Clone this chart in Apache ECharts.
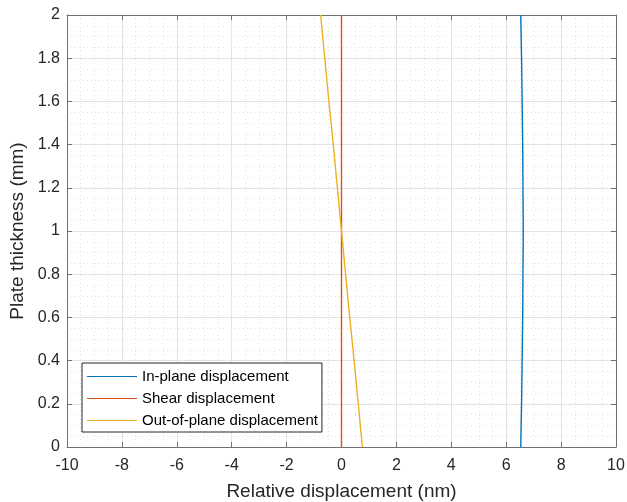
<!DOCTYPE html>
<html><head><meta charset="utf-8">
<script src="https://cdn.jsdelivr.net/npm/echarts@6/dist/echarts.min.js"></script>
<style>html,body{margin:0;padding:0;background:#fff}#c{width:627px;height:502px}</style>
</head><body><div id="c"></div>
<script>
var thickness = [0, 0.2, 0.4, 0.6, 0.8, 1.0, 1.2, 1.4, 1.6, 1.8, 2.0];
var inPlane = [6.53, 6.56, 6.58, 6.60, 6.61, 6.62, 6.61, 6.60, 6.58, 6.56, 6.53];
var shear = [0, 0, 0, 0, 0, 0, 0, 0, 0, 0, 0];
var outOfPlane = [0.76, 0.61, 0.46, 0.30, 0.15, 0, -0.15, -0.30, -0.46, -0.61, -0.76];
var seriesNames = ['In-plane displacement', 'Shear displacement', 'Out-of-plane displacement'];
var colors = ['#0072BD', '#D95319', '#EDB120'];

function pairs(xs) { return xs.map(function (v, i) { return [v, thickness[i]]; }); }
var font = 'Liberation Sans, Arial, sans-serif';
var axisCol = '#262626';
var gridCol = '#e3e3e3';
function xAx(pos, labels) {
  return {
    type: 'value', position: pos, min: -10, max: 10, interval: 2, z: 0,
    name: labels ? 'Relative displacement (nm)' : '', nameLocation: 'middle', nameGap: 35,
    nameTextStyle: { fontFamily: font, fontSize: 19, color: axisCol },
    axisLine: { show: true, onZero: false, lineStyle: { color: '#707070', width: 1 } },
    axisTick: { show: true, inside: true, length: 5, lineStyle: { color: '#707070' } },
    axisLabel: { show: labels, margin: 11, fontFamily: font, fontSize: 16, color: axisCol },
    minorTick: { show: false, splitNumber: 4 },
    splitLine: { show: labels, lineStyle: { color: gridCol, width: 1 } },
    minorSplitLine: { show: labels, lineStyle: { color: '#e2e2e2', type: [1, 3], width: 1 } }
  };
}
function yAx(pos, labels) {
  return {
    type: 'value', position: pos, min: 0, max: 2, interval: 0.2, z: 0,
    name: labels ? 'Plate thickness (mm)' : '', nameLocation: 'middle', nameGap: 31,
    nameTextStyle: { fontFamily: font, fontSize: 19, color: axisCol },
    axisLine: { show: true, onZero: false, lineStyle: { color: '#707070', width: 1 } },
    axisTick: { show: true, inside: true, length: 5, lineStyle: { color: '#707070' } },
    axisLabel: { show: labels, margin: 7, fontFamily: font, fontSize: 16, color: axisCol },
    minorTick: { show: false, splitNumber: 4 },
    splitLine: { show: labels, lineStyle: { color: gridCol, width: 1 } },
    minorSplitLine: { show: labels, lineStyle: { color: '#e2e2e2', type: [1, 3], width: 1 } }
  };
}
var chart = echarts.init(document.getElementById('c'), null, { renderer: 'canvas' });
var data = [inPlane, shear, outOfPlane];
chart.setOption({
  animation: false,
  backgroundColor: '#fff',
  grid: { left: 67, right: 11, top: 15, bottom: 55, containLabel: false, outerBoundsMode: 'none' },
  xAxis: [xAx('bottom', true), xAx('top', false)],
  yAxis: [yAx('left', true), yAx('right', false)],
  legend: {
    orient: 'vertical', left: 82, top: 363, z: 20,
    data: seriesNames.map(function (n) { return { name: n, icon: 'rect' }; }),
    itemWidth: 50, itemHeight: 1, itemGap: 7,
    padding: [6, 4, 4, 5],
    borderColor: '#262626', borderWidth: 1, backgroundColor: '#fff',
    textStyle: { fontFamily: font, fontSize: 15, color: '#000' }
  },
  series: seriesNames.map(function (n, i) {
    return {
      name: n, type: 'line', data: pairs(data[i]), showSymbol: false, symbol: 'none',
      smooth: i === 0, xAxisIndex: 0, yAxisIndex: 0, z: 10,
      lineStyle: { color: colors[i], width: 1.4 }, itemStyle: { color: colors[i] }
    };
  })
});
</script></body></html>
